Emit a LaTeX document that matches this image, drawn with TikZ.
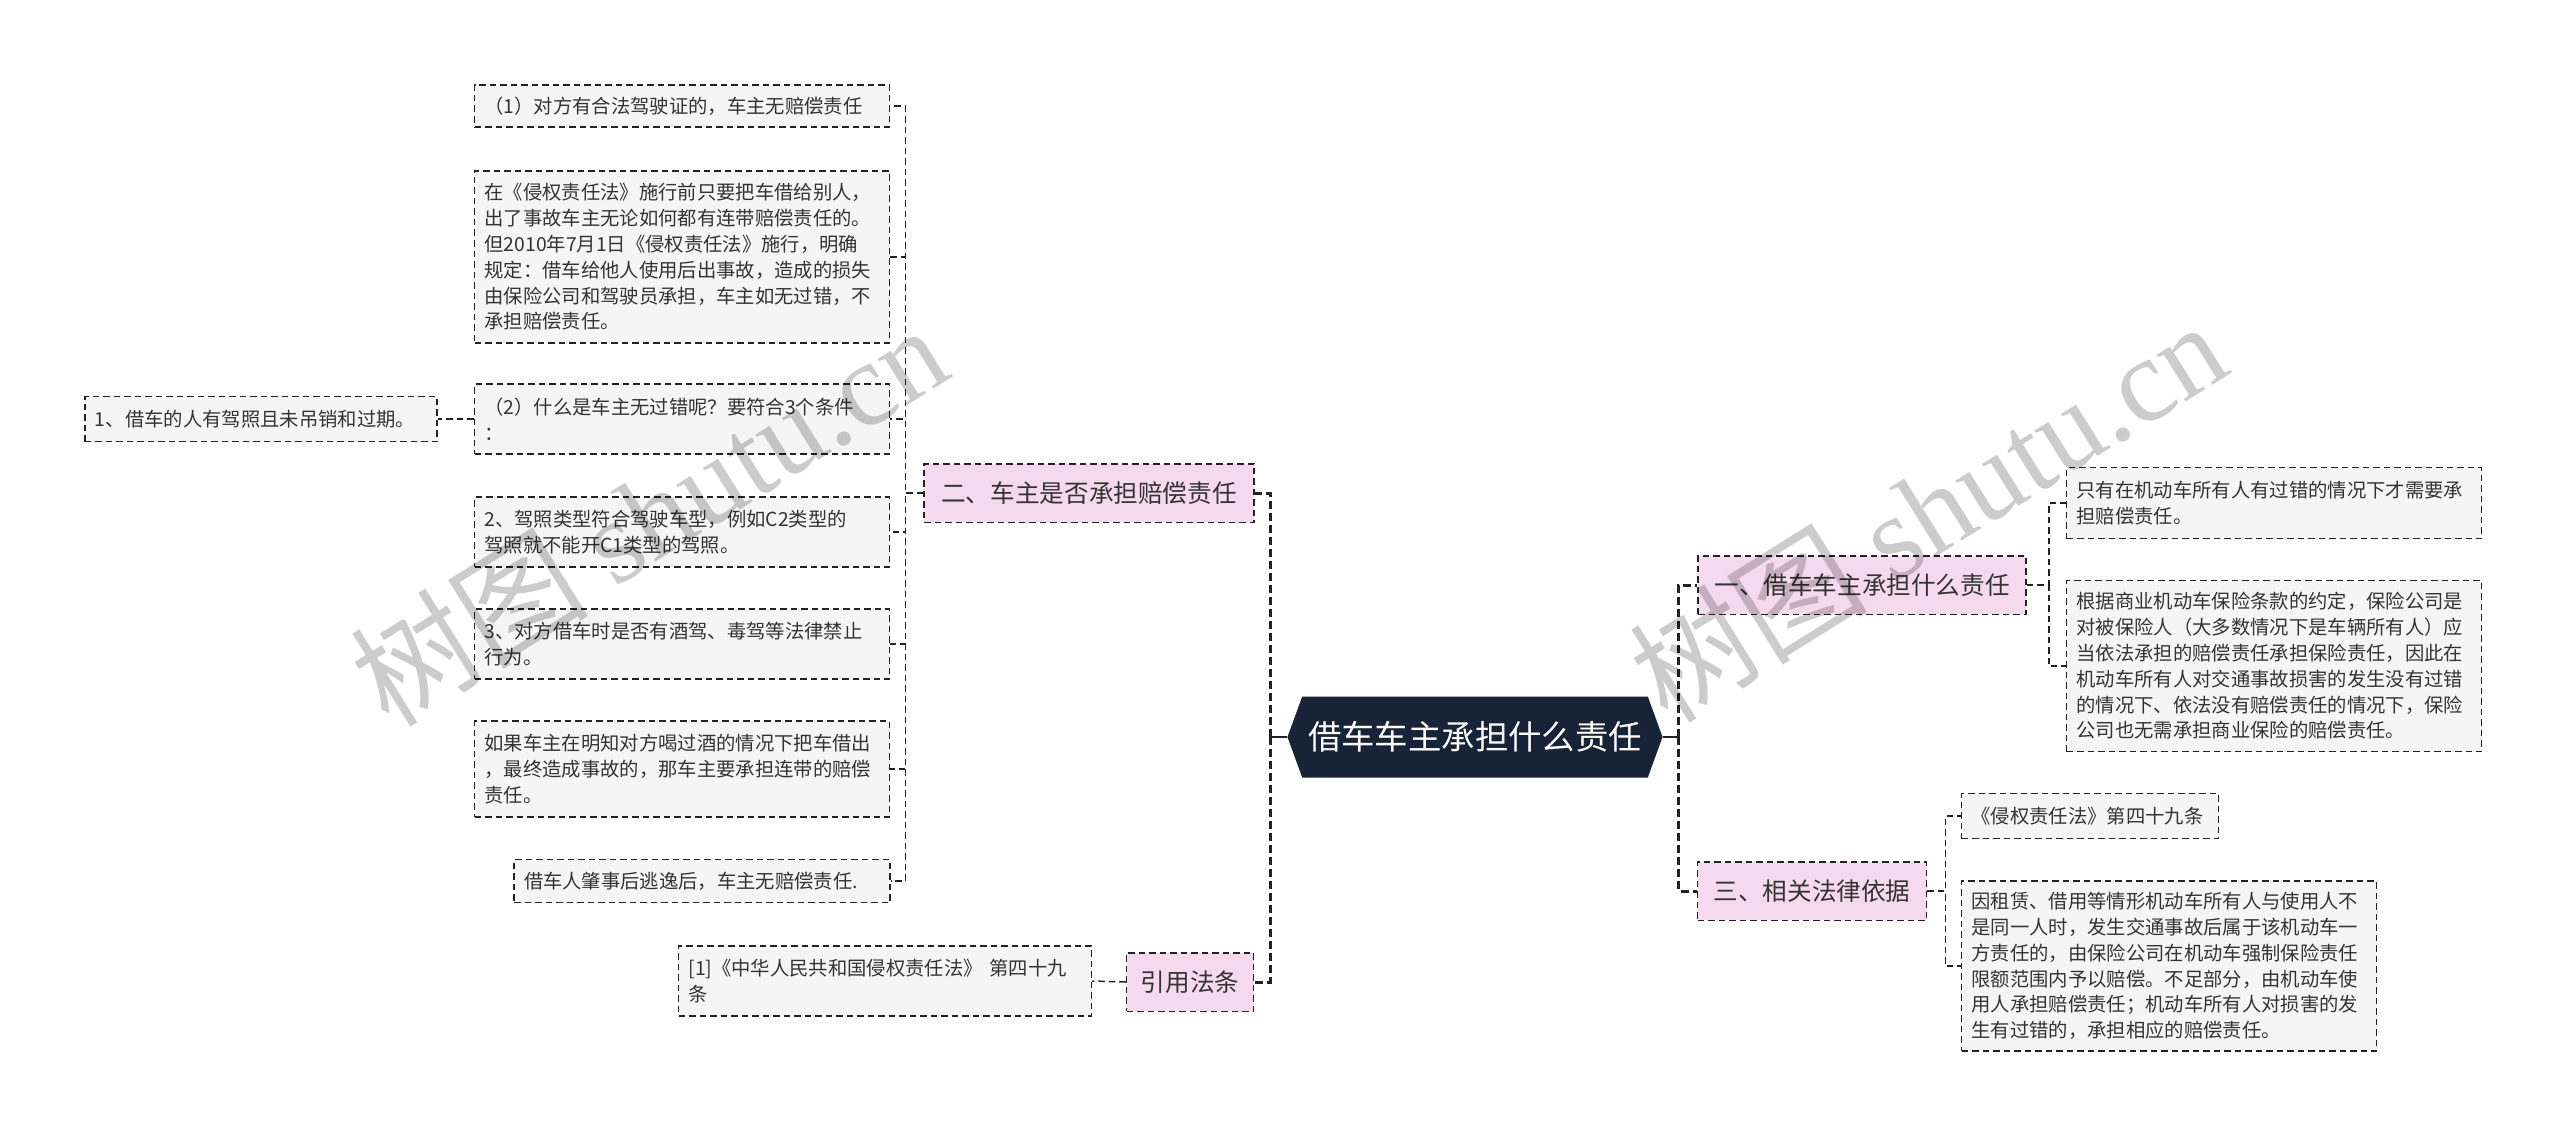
\documentclass[tikz,border=0pt]{standalone}
\usepackage{fontspec}
\setmainfont{Noto Sans CJK SC}
\newfontfamily\wmlatin{Liberation Serif}
\usetikzlibrary{positioning,shapes.symbols}
\definecolor{inkgray}{HTML}{333333}
\definecolor{linegray}{HTML}{222222}
\definecolor{leafgray}{HTML}{F5F5F5}
\definecolor{branchpink}{HTML}{F5D9EE}
\definecolor{rootnavy}{HTML}{172337}
\begin{document}
\begin{tikzpicture}[x=0.2mm, y=-0.2mm,
  leaf/.style={draw=linegray, line width=0.3mm, dash pattern=on 1.3mm off 0.8mm,
    fill=leafgray, text=inkgray, align=left, inner xsep=2mm,
    font=\fontsize{11pt}{14.7pt}\selectfont},
  branch/.style={draw=linegray, line width=0.3mm, dash pattern=on 1.3mm off 0.8mm,
    fill=branchpink, text=inkgray, minimum height=11.7mm,
    font=\fontsize{14pt}{17pt}\selectfont},
  hub/.style={signal, signal to=west and east, signal pointer angle=140,
    fill=rootnavy, text=white, minimum width=74.8mm, minimum height=16.2mm,
    font=\fontsize{19pt}{22pt}\selectfont},
  trunk/.style={draw=linegray, line width=0.35mm},
  bough/.style={draw=linegray, line width=0.6mm, dash pattern=on 1.6mm off 0.8mm},
  twig/.style={draw=linegray, line width=0.3mm, dash pattern=on 1.3mm off 0.8mm},
  stamp/.style={text=black, opacity=0.2, rotate=32, font=\fontsize{68pt}{68pt}\selectfont}]
  \useasboundingbox (0,0) rectangle (2560,1137);
  \node[hub] (root) at (1475,737) {借车车主承担什么责任};
  \node[branch, minimum width=66mm] (b2) at (1089,493) {二、车主是否承担赔偿责任};
  \node[branch, minimum width=25.4mm] (bcite) at (1190,982) {引用法条};
  \node[branch, minimum width=65.6mm] (b1) at (1862,585) {一、借车车主承担什么责任};
  \node[branch, minimum width=45.8mm] (b3) at (1812,891) {三、相关法律依据};
  \node[leaf, text width=79mm, minimum height=8.4mm] (l1) at (682,106) {（1）对方有合法驾驶证的，车主无赔偿责任};
  \node[leaf, text width=79mm, minimum height=34.4mm] (l2) at (682,257) {在《侵权责任法》施行前只要把车借给别人，\\出了事故车主无论如何都有连带赔偿责任的。\\但2010年7月1日《侵权责任法》施行，明确\\规定：借车给他人使用后出事故，造成的损失\\由保险公司和驾驶员承担，车主如无过错，不\\承担赔偿责任。};
  \node[leaf, text width=79mm, minimum height=14mm] (l3) at (682,419) {（2）什么是车主无过错呢？要符合3个条件\\：};
  \node[leaf, text width=66.4mm, minimum height=9mm] (l3c) at (261,419) {1、借车的人有驾照且未吊销和过期。};
  \node[leaf, text width=79mm, minimum height=14mm] (l4) at (682,532) {2、驾照类型符合驾驶车型，例如C2类型的\\驾照就不能开C1类型的驾照。};
  \node[leaf, text width=79mm, minimum height=14mm] (l5) at (682,644) {3、对方借车时是否有酒驾、毒驾等法律禁止\\行为。};
  \node[leaf, text width=79mm, minimum height=19.2mm] (l6) at (682,769) {如果车主在明知对方喝过酒的情况下把车借出\\，最终造成事故的，那车主要承担连带的赔偿\\责任。};
  \node[leaf, text width=71.2mm, minimum height=8.6mm] (l7) at (702,881) {借车人肇事后逃逸后，车主无赔偿责任.};
  \node[leaf, text width=78.6mm, minimum height=14mm] (cite) at (885,981) {[1]《中华人民共和国侵权责任法》 第四十九\\条};
  \node[leaf, text width=79mm, minimum height=14.2mm] (r1) at (2274,503) {只有在机动车所有人有过错的情况下才需要承\\担赔偿责任。};
  \node[leaf, text width=79mm, minimum height=34.2mm] (r2) at (2274,666) {根据商业机动车保险条款的约定，保险公司是\\对被保险人（大多数情况下是车辆所有人）应\\当依法承担的赔偿责任承担保险责任，因此在\\机动车所有人对交通事故损害的发生没有过错\\的情况下、依法没有赔偿责任的情况下，保险\\公司也无需承担商业保险的赔偿责任。};
  \node[leaf, text width=47.4mm, minimum height=9mm] (r3) at (2090,816) {《侵权责任法》第四十九条};
  \node[leaf, text width=79mm, minimum height=34mm] (r4) at (2169,966) {因租赁、借用等情形机动车所有人与使用人不\\是同一人时，发生交通事故后属于该机动车一\\方责任的，由保险公司在机动车强制保险责任\\限额范围内予以赔偿。不足部分，由机动车使\\用人承担赔偿责任；机动车所有人对损害的发\\生有过错的，承担相应的赔偿责任。};
  \coordinate[left=3.4mm of root.west] (lj);
  \coordinate[right=3.2mm of root.east] (rj);
  \draw[trunk] (root.west) -- (lj);
  \draw[trunk] (root.east) -- (rj);
  \draw[bough] (lj) |- (b2.east);
  \draw[bough] (lj) |- (bcite.east);
  \draw[bough] (rj) |- (b1.west);
  \draw[bough] (rj) |- (b3.west);
  \foreach \n in {l1,l2,l3,l4,l5,l6,l7}
    \draw[twig] (b2.west) -- ++(-3.6mm,0) |- (\n.east);
  \draw[twig] (l3.west) -- (l3c.east);
  \draw[twig] (bcite.west) -- (cite.east);
  \foreach \n in {r1,r2}
    \draw[twig] (b1.east) -- ++(4.4mm,0) |- (\n.west);
  \foreach \n in {r3,r4}
    \draw[twig] (b3.east) -- ++(3.6mm,0) |- (\n.west);
  \node[stamp] (wm1) at (648,514) {树图 {\wmlatin shutu.cn}};
  \node[stamp] (wm2) at (1927,510) {树图 {\wmlatin shutu.cn}};
\end{tikzpicture}
\end{document}
